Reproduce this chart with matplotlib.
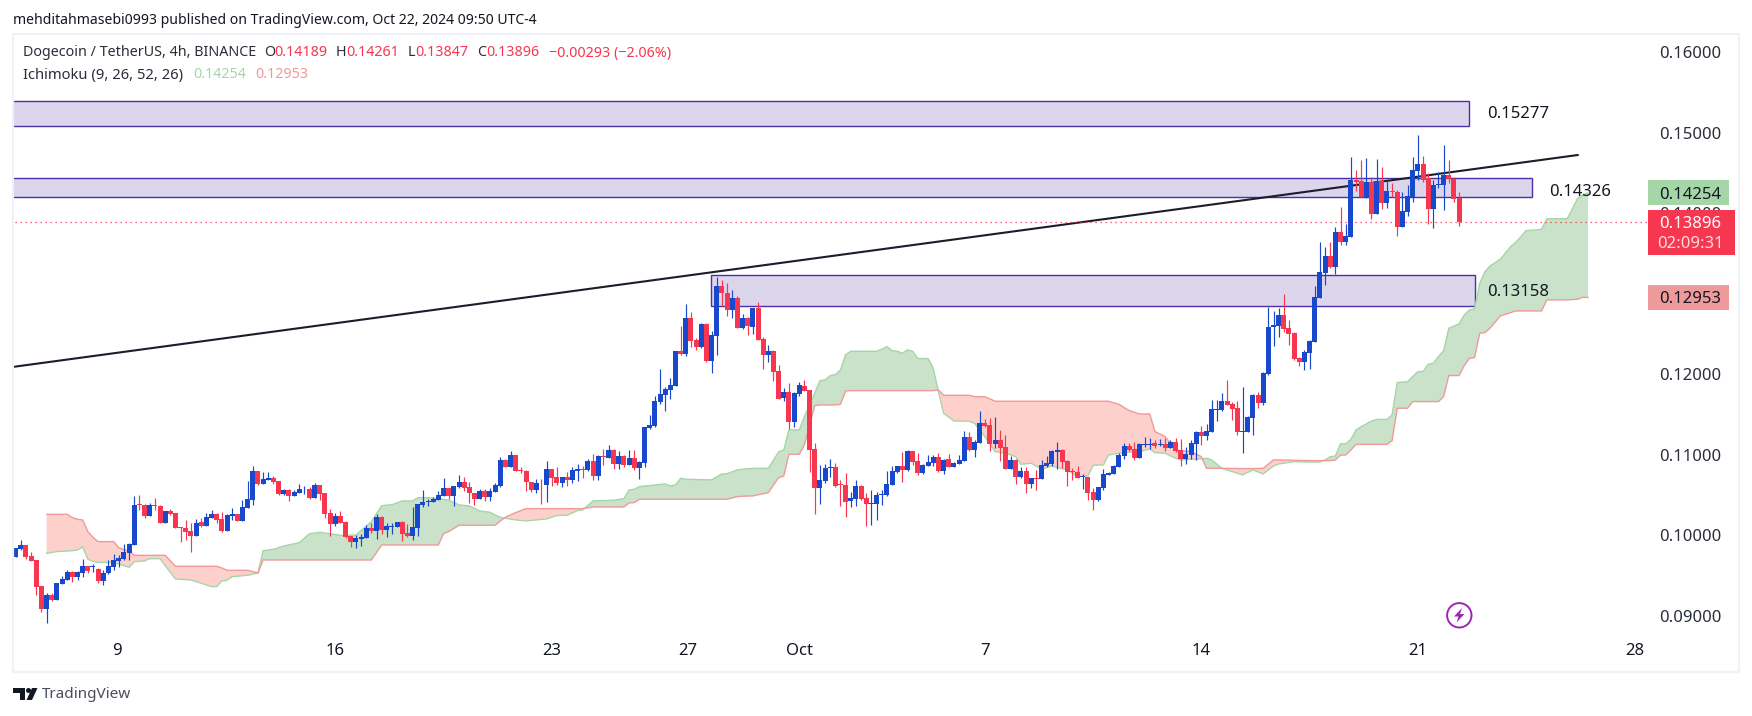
import matplotlib
matplotlib.use("Agg")
import numpy as np
import matplotlib.pyplot as plt
from matplotlib.patches import Rectangle, Circle, Polygon

plt.rcParams['font.family'] = ['Noto Sans', 'DejaVu Sans']

# DOGE/USDT 4h candles
opens = [
    .09734, .09829, .09878, .09742, .09692, .09369, .09088, .09258, .09195, .09398,
    .09448, .09543, .09485, .09535, .09618, .09609, .09580, .09431, .09527, .09609,
    .09684, .09709, .09783, .09883, .10384, .10375, .10239, .10371, .10363, .10156,
    .10297, .10276, .10102, .10094, .10048, .09994, .10164, .10114, .10218, .10264,
    .10197, .10057, .10243, .10264, .10181, .10342, .10437, .10798, .10636, .10690,
    .10711, .10673, .10512, .10562, .10491, .10528, .10570, .10578, .10466, .10624,
    .10524, .10276, .10139, .10239, .10164, .09994, .09916, .09953, .09965, .10090,
    .10052, .10226, .10061, .10102, .10106, .10164, .10028, .09994, .10094, .10379,
    .10408, .10413, .10437, .10491, .10586, .10492, .10596, .10662, .10596, .10525,
    .10455, .10550, .10480, .10538, .10612, .10935, .10848, .10993, .10811, .10798,
    .10662, .10567, .10649, .10629, .10819, .10724, .10653, .10724, .10687, .10803,
    .10819, .10811, .10923, .10740, .10985, .10960, .11059, .10885, .10985, .10877,
    .10956, .10836, .10902, .11337, .11357, .11659, .11742, .11804, .11854, .12289,
    .12252, .12699, .12425, .12334, .12624, .12165, .12479, .13096, .13013, .12798,
    .12947, .12579, .12699, .12591, .12823, .12438, .12239, .12289, .12040, .11705,
    .11780, .11407, .11755, .11854, .11804, .11072, .10587, .10678, .10840, .10848,
    .10637, .10624, .10426, .10455, .10612, .10463, .10389, .10389, .10500, .10500,
    .10624, .10790, .10860, .10811, .11047, .10923, .10774, .10860, .10902, .10972,
    .10798, .10947, .10848, .10885, .10923, .11221, .11059, .11150, .11395, .11370,
    .11134, .11183, .11096, .10823, .10935, .10724, .10798, .10637, .10711, .10699,
    .10860, .10885, .11038, .11059, .10923, .10798, .10786, .10728, .10724, .10538,
    .10438, .10587, .10749, .10761, .10848, .10985, .11109, .11072, .10960, .11125,
    .11125, .11146, .11117, .11134, .11084, .11159, .11059, .10947, .10997, .11134,
    .11283, .11233, .11283, .11560, .11556, .11668, .11630, .11581, .11283, .11283,
    .11457, .11742, .11643, .12003, .12587, .12599, .12736, .12574, .12512, .12202,
    .12152, .12264, .12401, .12947, .13258, .13469, .13332, .13767, .13643, .13705,
    .14409, .14400, .14193, .14388, .13991, .14400, .14127, .14276, .14264, .13829,
    .14015, .14193, .14529, .14612, .14433, .14053, .14355, .14355, .14475, .14429,
    .14189]
highs = [
    .09841, .09941, .09878, .09796, .09692, .09369, .09278, .09278, .09411, .09493,
    .09568, .09560, .09560, .09700, .09618, .09643, .09589, .09568, .09692, .09767,
    .09754, .09891, .09899, .10487, .10499, .10384, .10396, .10458, .10371, .10305,
    .10326, .10276, .10102, .10189, .10148, .10197, .10210, .10272, .10313, .10272,
    .10292, .10259, .10334, .10264, .10437, .10673, .10860, .10798, .10785, .10781,
    .10736, .10673, .10570, .10570, .10562, .10636, .10611, .10595, .10644, .10624,
    .10524, .10321, .10272, .10305, .10181, .09994, .10003, .10015, .10127, .10148,
    .10259, .10239, .10156, .10148, .10168, .10177, .10139, .10346, .10388, .10562,
    .10446, .10479, .10549, .10711, .10586, .10612, .10749, .10720, .10658, .10525,
    .10579, .10571, .10583, .10645, .10968, .10943, .11043, .10993, .10852, .10811,
    .10662, .10695, .10699, .10918, .10819, .10844, .10728, .10786, .10844, .10885,
    .10860, .10943, .11010, .10997, .11067, .11121, .11067, .11043, .10997, .11059,
    .11059, .10918, .11349, .11494, .11730, .12065, .11846, .11949, .12289, .12599,
    .12873, .12773, .12446, .12632, .12632, .12537, .13204, .13171, .13137, .13046,
    .12972, .12748, .12707, .12823, .12897, .12458, .12367, .12301, .12115, .11829,
    .11887, .11780, .11904, .11929, .11804, .11146, .10877, .10885, .10943, .10894,
    .10687, .10769, .10542, .10687, .10624, .10521, .10562, .10542, .10562, .10798,
    .10860, .10860, .11034, .11059, .11047, .11018, .10885, .10997, .10997, .11022,
    .10943, .11010, .10910, .10997, .11295, .11283, .11183, .11544, .11444, .11457,
    .11469, .11308, .11246, .10985, .10952, .10852, .10844, .10711, .10811, .10935,
    .10985, .11059, .11159, .11067, .10935, .10831, .10860, .10761, .10728, .10587,
    .10604, .10823, .10786, .10873, .11022, .11146, .11142, .11159, .11142, .11221,
    .11208, .11183, .11196, .11208, .11183, .11208, .11196, .11096, .11183, .11291,
    .11357, .11382, .11680, .11680, .11767, .11929, .11659, .11668, .11842, .11481,
    .11755, .11780, .12028, .12835, .12786, .12823, .12997, .12674, .12525, .12218,
    .12301, .12425, .13096, .13643, .13581, .13643, .13829, .14077, .13866, .14698,
    .14537, .14661, .14686, .14450, .14674, .14574, .14400, .14371, .14289, .14264,
    .14351, .14703, .14972, .14711, .14496, .14413, .14512, .14848, .14661, .14446,
    .14261]
lows = [
    .09734, .09816, .09700, .09684, .09258, .09050, .08906, .09183, .09195, .09394,
    .09448, .09423, .09444, .09485, .09527, .09547, .09411, .09382, .09518, .09568,
    .09609, .09692, .09692, .09879, .10313, .10218, .10239, .10313, .10156, .10156,
    .10251, .10086, .09920, .09941, .09796, .09994, .10106, .10114, .10210, .10148,
    .10044, .10057, .10189, .10181, .10181, .10342, .10375, .10624, .10636, .10690,
    .10636, .10499, .10499, .10425, .10491, .10528, .10512, .10446, .10466, .10437,
    .10210, .09994, .10114, .10148, .09961, .09858, .09845, .09866, .09965, .10023,
    .09953, .10015, .09974, .10015, .10106, .09932, .09982, .09941, .09994, .10346,
    .10363, .10408, .10437, .10491, .10450, .10364, .10587, .10554, .10405, .10376,
    .10455, .10430, .10430, .10538, .10596, .10852, .10848, .10799, .10769, .10554,
    .10542, .10521, .10384, .10418, .10612, .10620, .10604, .10612, .10645, .10678,
    .10716, .10803, .10687, .10687, .10873, .10956, .10823, .10823, .10844, .10877,
    .10811, .10703, .10852, .11324, .11341, .11626, .11548, .11697, .11854, .12239,
    .12227, .12343, .12301, .12322, .12152, .12020, .12239, .12848, .12728, .12703,
    .12579, .12562, .12487, .12500, .12425, .12069, .12156, .11916, .11697, .11672,
    .11316, .11349, .11730, .11788, .10790, .10264, .10389, .10645, .10728, .10604,
    .10364, .10227, .10355, .10364, .10438, .10115, .10128, .10190, .10376, .10488,
    .10624, .10778, .10666, .10803, .10873, .10749, .10761, .10860, .10860, .10790,
    .10761, .10848, .10844, .10885, .10923, .11047, .10972, .11150, .11341, .11047,
    .11084, .10923, .10823, .10823, .10637, .10707, .10525, .10587, .10562, .10699,
    .10844, .10860, .10823, .10836, .10612, .10687, .10707, .10575, .10438, .10314,
    .10426, .10562, .10749, .10761, .10848, .10947, .11051, .10935, .10960, .11092,
    .11072, .11084, .11109, .11047, .11084, .11038, .10860, .10885, .10947, .10935,
    .11121, .11183, .11283, .11419, .11548, .11614, .11432, .11246, .11022, .11283,
    .11246, .11581, .11618, .11991, .12351, .12463, .12525, .12363, .12177, .12102,
    .12053, .12065, .12401, .12947, .13109, .13320, .13245, .13605, .13605, .13705,
    .14276, .14198, .14193, .13928, .13991, .14053, .14065, .14198, .13717, .13829,
    .13966, .14140, .14413, .14388, .13866, .13821, .14313, .14040, .14380, .14144,
    .13847]
closes = [
    .09841, .09878, .09734, .09684, .09361, .09088, .09258, .09195, .09402, .09456,
    .09543, .09485, .09543, .09618, .09560, .09622, .09431, .09527, .09618, .09692,
    .09721, .09792, .09891, .10375, .10375, .10239, .10375, .10359, .10156, .10301,
    .10264, .10094, .10094, .10044, .09994, .10152, .10114, .10226, .10264, .10193,
    .10057, .10251, .10259, .10181, .10346, .10446, .10798, .10636, .10698, .10706,
    .10665, .10512, .10562, .10491, .10537, .10574, .10578, .10462, .10624, .10512,
    .10264, .10139, .10239, .10148, .09982, .09916, .09961, .09974, .10090, .10052,
    .10226, .10065, .10110, .10114, .10160, .10011, .09994, .10102, .10388, .10408,
    .10425, .10450, .10499, .10586, .10487, .10608, .10662, .10587, .10521, .10455,
    .10546, .10480, .10546, .10620, .10935, .10852, .10993, .10803, .10798, .10658,
    .10567, .10649, .10645, .10819, .10711, .10653, .10720, .10691, .10807, .10819,
    .10815, .10923, .10736, .10985, .10976, .11059, .10885, .10985, .10877, .10956,
    .10840, .10910, .11345, .11366, .11668, .11751, .11817, .11862, .12289, .12256,
    .12699, .12417, .12338, .12624, .12165, .12487, .13096, .13005, .12798, .12947,
    .12579, .12699, .12599, .12823, .12425, .12239, .12289, .12028, .11697, .11780,
    .11407, .11767, .11866, .11796, .11059, .10587, .10687, .10836, .10848, .10612,
    .10624, .10413, .10463, .10612, .10455, .10389, .10401, .10500, .10513, .10637,
    .10798, .10860, .10811, .11047, .10910, .10774, .10873, .10910, .10972, .10798,
    .10935, .10848, .10898, .10935, .11221, .11059, .11159, .11395, .11353, .11134,
    .11183, .11084, .10823, .10935, .10724, .10798, .10637, .10711, .10703, .10873,
    .10898, .11047, .11059, .10910, .10786, .10786, .10711, .10736, .10525, .10438,
    .10600, .10761, .10774, .10860, .10997, .11109, .11059, .10960, .11134, .11134,
    .11134, .11109, .11134, .11084, .11159, .11047, .10947, .11010, .11146, .11283,
    .11233, .11295, .11568, .11568, .11668, .11618, .11568, .11283, .11295, .11469,
    .11742, .11643, .12016, .12587, .12612, .12736, .12562, .12500, .12189, .12152,
    .12276, .12413, .12960, .13270, .13469, .13332, .13767, .13643, .13717, .14413,
    .14392, .14198, .14388, .13991, .14400, .14127, .14276, .14268, .13829, .14028,
    .14214, .14537, .14612, .14413, .14053, .14351, .14363, .14475, .14425, .14181,
    .13896]

# ichimoku cloud, sampled at the bars where the outline changes
cloud_bars = [
    6, 8, 10, 11, 12, 13, 14, 15, 16, 19, 20, 22, 23, 25, 26, 28, 29, 31, 34, 36,
    38, 39, 40, 41, 42, 45, 47, 48, 50, 52, 55, 57, 59, 63, 66, 69, 71, 73, 75, 77,
    78, 80, 82, 83, 84, 86, 88, 90, 92, 93, 94, 95, 97, 99, 103, 105, 107, 109, 110, 112,
    116, 118, 119, 120, 121, 126, 127, 128, 129, 130, 135, 137, 138, 140, 141, 143, 146, 148, 149, 150,
    152, 153, 155, 156, 157, 158, 159, 160, 161, 162, 167, 168, 169, 170, 171, 172, 173, 174, 175, 177,
    178, 179, 180, 182, 185, 186, 188, 190, 192, 194, 195, 197, 199, 201, 204, 206, 208, 209, 211, 212,
    214, 216, 218, 220, 221, 223, 225, 226, 228, 230, 231, 232, 234, 238, 240, 242, 244, 245, 248, 251,
    253, 254, 255, 256, 257, 258, 259, 260, 261, 263, 264, 266, 267, 268, 270, 271, 272, 273, 274, 275,
    276, 277, 278, 280, 281, 282, 283, 284, 285, 286, 288, 290, 291, 292, 293, 295, 296, 297, 301, 303,
    304, 305]
span_a = [
    .09775, .09796, .09804, .09808, .09816, .09854, .09700, .09676, .09663, .09659,
    .09643, .09601, .09671, .09680, .09709, .09709, .09622, .09456, .09444, .09402,
    .09361, .09361, .09431, .09440, .09485, .09502, .09531, .09808, .09825, .09866,
    .09907, .10019, .10036, .09999, .10003, .10168, .10367, .10379, .10425, .10425,
    .10466, .10466, .10454, .10446, .10437, .10376, .10364, .10301, .10285, .10252,
    .10223, .10210, .10190, .10177, .10202, .10244, .10248, .10306, .10314, .10426,
    .10434, .10455, .10562, .10571, .10604, .10637, .10612, .10624, .10707, .10695,
    .10687, .10761, .10765, .10811, .10819, .10831, .10831, .11034, .11059, .11308,
    .11308, .11473, .11763, .11920, .11929, .11982, .11995, .12053, .12243, .12285,
    .12285, .12310, .12343, .12293, .12285, .12260, .12301, .12285, .12194, .12194,
    .12074, .11784, .11515, .11419, .11415, .11390, .11225, .11038, .11018, .10976,
    .10881, .10894, .10819, .10860, .10811, .10728, .10736, .10869, .10873, .10997,
    .11018, .11030, .11038, .11072, .11026, .11018, .10956, .10935, .10943, .10947,
    .10956, .10935, .10831, .10749, .10811, .10761, .10860, .10885, .10914, .10909,
    .10909, .10934, .10975, .10983, .11137, .11137, .11190, .11306, .11348, .11418,
    .11439, .11439, .11494, .11896, .11908, .11970, .12033, .12033, .12124, .12136,
    .12219, .12293, .12571, .12625, .12736, .12798, .12811, .13130, .13274, .13345,
    .13428, .13585, .13639, .13709, .13784, .13792, .13800, .13929, .13933, .14185,
    .14227, .14254]
span_b = [
    .10259, .10259, .10259, .10218, .10197, .10189, .10044, .09974, .09920, .09920,
    .09845, .09796, .09750, .09750, .09750, .09750, .09750, .09614, .09614, .09614,
    .09614, .09614, .09593, .09564, .09564, .09564, .09531, .09692, .09692, .09692,
    .09692, .09692, .09692, .09692, .09692, .09692, .09879, .09879, .09879, .09879,
    .09879, .09879, .09879, .10019, .10044, .10124, .10124, .10124, .10124, .10124,
    .10177, .10223, .10281, .10330, .10330, .10330, .10330, .10330, .10330, .10351,
    .10351, .10351, .10401, .10405, .10447, .10447, .10447, .10447, .10447, .10447,
    .10447, .10447, .10447, .10480, .10484, .10488, .10529, .10716, .10736, .11005,
    .11005, .11121, .11610, .11618, .11618, .11618, .11618, .11626, .11792, .11796,
    .11796, .11796, .11796, .11796, .11796, .11796, .11796, .11796, .11796, .11796,
    .11796, .11804, .11738, .11738, .11738, .11721, .11721, .11664, .11664, .11664,
    .11664, .11664, .11664, .11664, .11664, .11664, .11664, .11664, .11664, .11664,
    .11626, .11548, .11506, .11506, .11287, .11225, .11059, .11051, .11038, .10976,
    .10831, .10831, .10831, .10827, .10827, .10831, .10935, .10935, .10931, .10926,
    .10926, .10926, .10926, .10934, .10996, .10996, .11058, .11128, .11128, .11128,
    .11128, .11128, .11174, .11577, .11577, .11660, .11660, .11660, .11660, .11660,
    .11660, .11722, .11983, .11983, .12107, .12198, .12206, .12509, .12517, .12571,
    .12724, .12765, .12786, .12786, .12786, .12786, .12786, .12923, .12923, .12931,
    .12956, .12953]

# drawn zones: bottom, top, first bar, last bar, label
zone_bottoms = [.15079, .14197, .12843]
zone_tops = [.15394, .14433, .13229]
zone_starts = [-2, -2, 134.9]
zone_ends = [281.9, 294.1, 283.0]
zone_labels = ['0.15277', '0.14326', '0.13158']

trend_bars = [-2, 303]
trend_prices = [.12078, .14723]

price_ticks = [.09, .10, .11, .12, .13, .14, .15, .16]
day_ticks = [19.6, 62, 104, 130.4, 152, 188, 230, 272, 314]
day_labels = ['9', '16', '23', '27', 'Oct', '7', '14', '21', '28']

last_close = closes[-1]
span_a_last = span_a[-1]
span_b_last = span_b[-1]

UP = '#1848cc'
DOWN = '#f7374f'
W, H = 1752, 716

fig = plt.figure(figsize=(W / 100, H / 100), dpi=100, facecolor='white')
ax = fig.add_axes([14 / W, 1 - 671 / H, 1724 / W, 636 / H])
ax.set_xlim(-0.324, 334.1)
ax.set_ylim(.08313, .16214)
for s in ax.spines.values():
    s.set_visible(False)

# zones
for b, t, x0, x1 in zip(zone_bottoms, zone_tops, zone_starts, zone_ends):
    ax.add_patch(Rectangle((x0, b), x1 - x0, t - b, fc='#dcd6ec', ec='#4e2fa8', lw=1.0, zorder=1))

# cloud
a = np.array(span_a)
b = np.array(span_b)
ax.fill_between(cloud_bars, a, b, where=a >= b, interpolate=True, color='#c9e2c9', lw=0, zorder=2)
ax.fill_between(cloud_bars, a, b, where=a <= b, interpolate=True, color='#fdd0cc', lw=0, zorder=2)
ax.plot(cloud_bars, a, color='#a5d6a7', lw=1.0, zorder=2.5)
ax.plot(cloud_bars, b, color='#ef9a9a', lw=1.0, zorder=2.5)

# trend line
ax.plot(trend_bars, trend_prices, color='#1c1c2b', lw=1.5, zorder=3)

# last price line
ax.plot([-2, 316.6], [last_close, last_close], color=DOWN, lw=0.9, ls=(0, (1, 3)), zorder=3)

# candles
o = np.array(opens)
c = np.array(closes)
bars = np.arange(len(o))
colors = [UP if cl >= op else DOWN for op, cl in zip(o, c)]
ax.vlines(bars, lows, highs, colors=colors, lw=0.85, zorder=4)
ax.bar(bars, np.abs(c - o), bottom=np.minimum(o, c), width=0.97, color=colors, lw=0, zorder=4)

ax.set_yticks(price_ticks)
ax.set_yticklabels(['%.5f' % p for p in price_ticks], va='center_baseline')
ax.yaxis.tick_right()
ax.tick_params(axis='y', length=0, pad=-57, labelsize=12, labelcolor='#2a2e39')
ax.set_xticks(day_ticks)
ax.set_xticklabels(day_labels)
ax.tick_params(axis='x', length=0, pad=-20, labelsize=12, labelcolor='#131722')

# price tags on the scale
tag_x = 316.6
text_x = 1690.5 / 5.155 - 3.04
def tag(price, text, bg, width=15.7, fg='#131722'):
    ax.add_patch(Rectangle((tag_x, price - .00155), width, .0031, fc=bg, ec='none', zorder=7))
    ax.text(text_x, price, text, fontsize=12, color=fg, ha='center', va='center_baseline', zorder=8)

tag(span_a_last, '%.5f' % span_a_last, '#a5d6a7')
tag(span_b_last, '%.5f' % span_b_last, '#ef9a9a')
ax.add_patch(Rectangle((tag_x, last_close - .00415), 16.9, .0056, fc=DOWN, ec='none', zorder=7))
ax.text(text_x, last_close, '%.5f' % last_close, fontsize=12, color='white',
        ha='center', va='center_baseline', zorder=8)
ax.text(text_x, last_close - .00248, '02:09:31', fontsize=12, color='#ffd9dd',
        ha='center', va='center_baseline', zorder=8)

# everything around the plot, in picture pixels
top = fig.add_axes([0, 0, 1, 1], facecolor='none')
top.set_xlim(0, W)
top.set_ylim(H, 0)
top.axis('off')
top.add_patch(Rectangle((13, 34), 1726, 638, fc='none', ec='#eff1f7', lw=1.6))

def label(x, y, s, color='#2a2e39', size=10.3):
    top.text(x, y, s, color=color, fontsize=size, va='center', ha='left')

# zone labels sit a little off their levels in the reference
for lab, x0, y0 in zip(zone_labels, [1487, 1549, 1487], [114, 191.5, 292.5]):
    label(x0, y0, lab, '#131722', 12)

label(13, 20, 'mehditahmasebi0993 published on TradingView.com, Oct 22, 2024 09:50 UTC-4', '#131722', 10.1)
label(23, 53, 'Dogecoin / TetherUS, 4h, BINANCE')
for letter, value, x0, x1 in [('O', '0.14189', 264, 274), ('H', '0.14261', 336, 346),
                              ('L', '0.13847', 408, 415), ('C', '0.13896', 477, 486)]:
    label(x0, 53, letter)
    label(x1, 53, value, DOWN)
label(549, 53, '\u22120.00293 (\u22122.06%)', DOWN)
label(23, 75, 'Ichimoku (9, 26, 52, 26)', size=10.6)
label(193, 75, '0.14254', '#a5d6a7')
label(255, 75, '0.12953', '#ef9a9a')

# TradingView logo and name
top.add_patch(Polygon([(13, 688), (25, 688), (25, 700), (20, 700), (20, 693), (13, 693)], fc='#131722'))
top.add_patch(Circle((28.5, 690.5), 2.5, fc='#131722'))
top.add_patch(Polygon([(32, 688), (37.5, 688), (32, 700), (26.5, 700)], fc='#131722'))
label(42, 695, 'TradingView', '#4a4e59', 11)

# lightning mark
top.add_patch(Circle((1459.3, 615.3), 12.2, fc='white', ec='#9c27b0', lw=1.4))
top.add_patch(Polygon([(1462, 608), (1454, 616.5), (1458.5, 616.5), (1456.5, 622.5), (1464.5, 614), (1460, 614)], fc='#9c27b0'))

plt.savefig('out.png', dpi=100, facecolor='white')
